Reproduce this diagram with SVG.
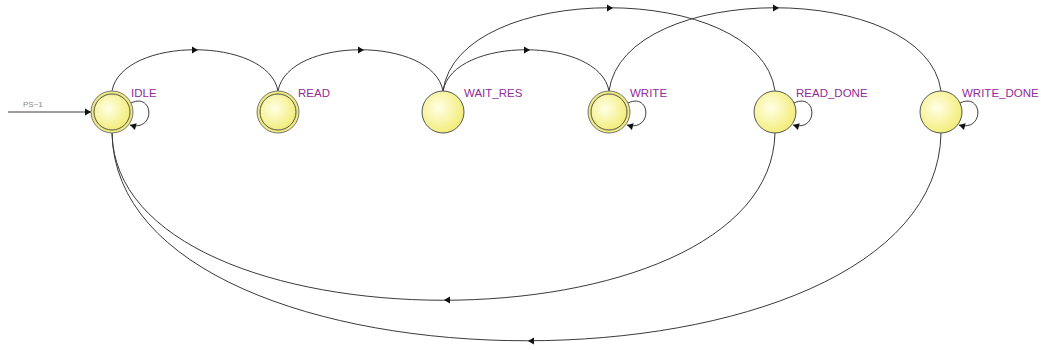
<svg xmlns="http://www.w3.org/2000/svg" xmlns:xlink="http://www.w3.org/1999/xlink" width="1041" height="350" viewBox="0 0 1041 350">
<style>
.edge{fill:none;stroke:#3a3a3a;stroke-width:1}
.lbl{font-family:"Liberation Sans",Arial,sans-serif;font-size:11.5px;fill:#932b98}
.st{fill:url(#yg);stroke:#555;stroke-width:1}
.outer{fill:#f0ea7c;stroke:#777;stroke-width:1}
.ah{fill:#111}
</style>
<defs>
<radialGradient id="yg" cx="0.4" cy="0.4" r="0.65">
<stop offset="0" stop-color="#ffffe6"/>
<stop offset="1" stop-color="#f2ec74"/>
</radialGradient>
<path id="ah" d="M-3,-3.5 L3,0 L-3,3.5 Z"/>
<marker id="arr" markerWidth="8" markerHeight="8" refX="7" refY="4" orient="auto" markerUnits="userSpaceOnUse">
<path d="M1,0.5 L7,4 L1,7.5 Z" fill="#111"/>
</marker>
</defs>
<rect width="1041" height="350" fill="#fff"/>
<g id="connectors">
<path class="edge" d="M8,112 L91,112" marker-end="url(#arr)"/>
<text x="23" y="107" font-family="Liberation Sans,Arial,sans-serif" font-size="8" fill="#888">PS~1</text>
<path class="edge" d="M112,91 C122,36 268,36 278,91"/>
<use href="#ah" class="ah" transform="translate(195,50)"/>
<path class="edge" d="M278,91 C288,36 433,36 443,91"/>
<use href="#ah" class="ah" transform="translate(361,50)"/>
<path class="edge" d="M443,91 C453,36 599,36 609,91"/>
<use href="#ah" class="ah" transform="translate(527,50)"/>
<path class="edge" d="M443,91 C458,-20 760,-20 775,91"/>
<use href="#ah" class="ah" transform="translate(610,8)"/>
<path class="edge" d="M609,91 C624,-20 926,-20 941,91"/>
<use href="#ah" class="ah" transform="translate(776,8)"/>
<path class="edge" d="M775,133 C770,356 117,356 112,133"/>
<use href="#ah" class="ah" transform="translate(447,300) rotate(180)"/>
<path class="edge" d="M941,133 C936,410 117,410 112,133"/>
<use href="#ah" class="ah" transform="translate(531,341) rotate(180)"/>
<path class="edge" d="M131,103 C154,92 156,132 130,125" marker-end="url(#arr)"/>
<path class="edge" d="M628,103 C651,92 653,132 627,125" marker-end="url(#arr)"/>
<path class="edge" d="M794,103 C817,92 819,132 793,125" marker-end="url(#arr)"/>
<path class="edge" d="M960,103 C983,92 985,132 959,125" marker-end="url(#arr)"/>
</g>
<g id="IDLE">
<circle class="outer" cx="112" cy="112" r="21"/>
<circle class="st" cx="112" cy="112" r="18"/>
<text class="lbl" x="131" y="97">IDLE</text>
</g>
<g id="READ">
<circle class="outer" cx="278" cy="112" r="21"/>
<circle class="st" cx="278" cy="112" r="18"/>
<text class="lbl" x="298" y="97">READ</text>
</g>
<g id="WAIT_RES">
<circle class="st" cx="443" cy="112" r="21"/>
<text class="lbl" x="464" y="97">WAIT_RES</text>
</g>
<g id="WRITE">
<circle class="outer" cx="609" cy="112" r="21"/>
<circle class="st" cx="609" cy="112" r="18"/>
<text class="lbl" x="630" y="97">WRITE</text>
</g>
<g id="READ_DONE">
<circle class="st" cx="775" cy="112" r="21"/>
<text class="lbl" x="796" y="97">READ_DONE</text>
</g>
<g id="WRITE_DONE">
<circle class="st" cx="941" cy="112" r="21"/>
<text class="lbl" x="962" y="97">WRITE_DONE</text>
</g>
</svg>
